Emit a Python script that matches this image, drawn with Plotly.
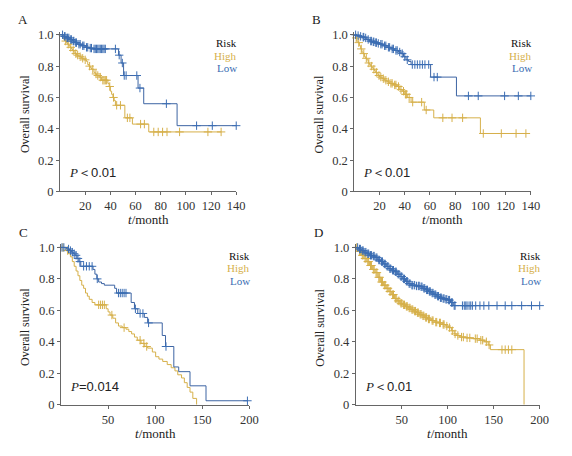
import plotly.graph_objects as go

W, H = 572, 456
BLUE = "#3b6db3"
BLUE_LINE = "#3d64a3"
GOLD = "#d6b04a"
AXC = "#666666"
FONT = "Liberation Serif, Times New Roman, serif"

# ---------------- data ----------------
# Panel A
a_low_t = [0, 3, 5, 8, 10, 12, 14, 17, 20, 23, 26, 46.5, 48.5, 50.5, 62, 66.5, 93]
a_low_s = [1.0, 0.99, 0.98, 0.97, 0.96, 0.95, 0.94, 0.93, 0.92, 0.915, 0.91, 0.87, 0.82, 0.74, 0.66, 0.56, 0.42]
a_low_c = [2, 3.5, 4, 5.5, 6, 7, 8.5, 9, 10.5, 11, 12.5, 13, 15, 16, 18, 19, 21, 22, 24, 25, 27, 28, 29, 30,
           31, 32, 33, 34, 35, 36, 44, 47, 49.5, 51, 52.5, 61, 63.5, 84.5, 108.5, 121, 140]
a_high_t = [0, 2, 3, 4, 5, 6, 7, 8, 9, 10, 11, 12, 13, 15, 17, 19, 21, 22, 23, 24, 25, 27, 28, 29, 31, 33,
            38, 39, 40, 41, 42, 43, 44, 51.5, 57.5, 70.5]
a_high_s = [1, .98, .97, .96, .95, .94, .93, .92, .91, .90, .89, .88, .87, .86, .85, .84, .83, .81, .80, .79,
            .78, .76, .75, .74, .73, .71, .69, .67, .64, .62, .60, .58, .55, .47, .43, .38]
a_high_c = [4.5, 6.5, 8.5, 10.5, 12.5, 14, 16, 18, 20, 23.5, 26, 28.5, 30, 32, 34, 35, 36, 37, 39.5, 42.5,
            45, 48, 53.5, 55.5, 64, 67, 74.5, 78, 81.5, 85, 95, 117.5, 128]

# Panel B
b_low_t = [0, 2, 4, 6, 8, 10, 12, 14, 16, 18, 20, 23, 26, 29, 32, 35, 37, 39, 41, 43, 45, 60.5, 81]
b_low_s = [1, .995, .99, .985, .98, .97, .96, .955, .95, .945, .94, .93, .92, .91, .90, .89, .88, .86, .84,
           .83, .81, .73, .61]
b_low_c = [1, 3, 5, 7, 7.5, 9, 11, 13, 13.5, 15, 15.5, 17, 17.5, 19, 21, 22, 24, 25, 27, 28, 30, 31, 33, 34,
           36, 38, 40, 42, 46, 48, 50, 52, 54, 56, 59, 63.2, 65.8, 90.5, 98.3, 119.2, 130.1, 140]
b_high_t = [0, 1, 2, 3, 4, 5, 6, 7, 8, 9, 10, 11, 12, 13, 14, 15, 16, 17, 18, 19, 20, 22, 24, 26, 28, 31,
            34, 36, 38, 40, 42, 45, 55.5, 63, 100]
b_high_s = [1, .98, .96, .95, .93, .91, .89, .88, .86, .85, .84, .82, .81, .80, .79, .78, .77, .76, .75,
            .74, .73, .72, .71, .70, .69, .68, .67, .65, .64, .62, .60, .57, .52, .47, .37]
b_high_c = [1.5, 3.5, 5.5, 7.5, 9.5, 11.5, 13.5, 15.5, 17.5, 19.5, 21, 23, 25, 27, 29, 30, 32, 33, 35, 37,
            39, 40.5, 41.5, 43.5, 46.3, 53.4, 57, 70.2, 77.5, 85.9, 102.3, 116.6, 128.3, 136.1]

# Panel C
c_low_t = [0, 6, 9, 11, 13, 15, 17, 19, 21, 34, 36, 38, 40, 43, 46, 57, 59, 74.5, 78, 81.5, 88.5, 92,
           107.5, 111, 119.8, 125, 137, 154]
c_low_s = [1, .99, .98, .97, .96, .95, .93, .91, .88, .86, .83, .80, .78, .77, .76, .74, .71, .65, .61,
           .58, .555, .52, .44, .37, .24, .21, .12, .025]
c_low_c = [1, 3, 8, 10, 12, 14, 16, 18, 20, 24, 27, 30, 33, 38.5, 61, 63, 65, 67, 69, 79, 84, 87, 93,
           111.5, 198]
c_high_t = [0, 5, 8, 10, 12, 14, 16, 18, 20, 22, 24, 26, 28, 30, 33, 36, 48, 50, 52, 55, 58, 61, 65, 69,
            72, 75, 78, 81, 85, 89, 92, 97, 100.5, 104, 108, 112.8, 117, 121, 124, 128, 131, 134, 137, 140, 144]
c_high_s = [1, .98, .96, .94, .91, .88, .85, .82, .79, .76, .74, .71, .69, .67, .65, .635, .61, .59, .57,
            .55, .52, .50, .49, .48, .465, .45, .43, .41, .39, .37, .36, .335, .305, .29, .275, .255, .235,
            .215, .19, .17, .14, .11, .08, .04, 0]
c_high_c = [2, 7, 40, 42, 44, 46, 54, 67, 84, 88, 91]

# Panel D
d_low_t = [0, 3, 6, 9, 12, 15, 18, 21, 24, 27, 30, 33, 36, 39, 42, 45, 48, 51, 54, 57, 60, 65, 70, 73, 76,
           79, 82, 85, 88, 91, 94, 97, 100, 103, 106]
d_low_s = [1, .99, .98, .97, .96, .95, .945, .935, .92, .91, .895, .88, .865, .855, .845, .83, .815, .80,
           .785, .77, .76, .755, .75, .74, .73, .72, .71, .70, .69, .68, .675, .67, .665, .65, .63]
d_low_c = [2, 4, 5, 7, 8, 10, 11, 13, 14, 16, 17, 19, 20, 22, 23, 25, 26, 28, 29, 31, 32, 34, 35, 37, 38,
           40, 41, 43, 44, 46, 47, 49, 50, 52, 53, 55, 56, 58, 59, 61, 62, 64, 66, 68, 69, 71, 72, 74, 75,
           77, 78, 80, 81, 83, 84, 86, 87, 89, 90, 92, 93, 95, 96, 98, 99, 101, 102, 104, 105, 107, 108,
           116, 118, 119.6, 121, 123.2, 125, 126.8, 130.4, 135, 139.3, 144.7, 153.6, 162.5, 169.7, 180.4,
           191.1, 200]
d_high_t = [0, 3, 6, 9, 12, 15, 18, 21, 24, 27, 30, 33, 36, 39, 42, 45, 48, 51, 54, 57, 60, 63, 66, 69,
            72, 75, 78, 82, 86, 90, 94, 98, 101, 104, 107, 110, 113, 120, 128, 135, 140, 144, 146.4, 183]
d_high_s = [1, .975, .95, .93, .91, .885, .86, .84, .81, .78, .76, .74, .72, .70, .675, .66, .645, .635,
            .625, .615, .605, .595, .585, .575, .565, .555, .545, .535, .525, .52, .51, .50, .49, .47,
            .45, .44, .43, .425, .42, .41, .40, .38, .35, 0]
d_high_c = [1, 4, 5, 7, 8, 10, 11, 13, 14, 16, 17, 19, 20, 22, 23, 25, 26, 28, 29, 31, 32, 34, 35, 37, 38,
            40, 41, 43, 44, 46, 47, 49, 50, 52, 53, 55, 56, 58, 59, 61, 62, 64, 65, 67, 68, 70, 71, 73,
            74, 76, 77, 79, 80, 83, 84, 87, 88, 91, 92, 95, 96, 99, 102, 105, 108, 111, 115, 117, 121,
            124, 130, 132, 136, 138, 142, 145, 159, 162.5, 166, 169.7]

panel_labels = ["A", "B", "C", "D"]
P_SPAN = "<span style='font-family:Liberation Sans'>%s</span>"
p_texts = ["<i>P</i>＜" + P_SPAN % "0.01",
           "<i>P</i>＜" + P_SPAN % "0.01",
           "<i>P</i>" + P_SPAN % "=0.014",
           "<i>P</i>＜" + P_SPAN % "0.01"]
y_tickvals = [0, 0.2, 0.4, 0.6, 0.8, 1.0]
y_ticktext = ["0", "0.2", "0.4", "0.6", "0.8", "1.0"]
x_ticks_ab = [20, 40, 60, 80, 100, 120, 140]
x_ticks_cd = [50, 100, 150, 200]
legend_title = "Risk"
group_names = ["High", "Low"]


def surv_at(ts, ss, c):
    v = ss[0]
    for t, s in zip(ts, ss):
        if t <= c:
            v = s
        else:
            break
    return v


def px2x(p):
    return p / W


def px2y(p):
    return 1 - p / H


panels = [
    dict(high=(a_high_t, a_high_s, a_high_c), low=(a_low_t, a_low_s, a_low_c), xr=140, xt=x_ticks_ab,
         xd=(61, 240), yd=(29.3, 192.7)),
    dict(high=(b_high_t, b_high_s, b_high_c), low=(b_low_t, b_low_s, b_low_c), xr=140, xt=x_ticks_ab,
         xd=(360, 539.3), yd=(29.3, 192.7)),
    dict(high=(c_high_t, c_high_s, c_high_c), low=(c_low_t, c_low_s, c_low_c), xr=200, xt=x_ticks_cd,
         xd=(62, 253.3), yd=(246.7, 410.7)),
    dict(high=(d_high_t, d_high_s, d_high_c), low=(d_low_t, d_low_s, d_low_c), xr=200, xt=x_ticks_cd,
         xd=(361.5, 548.3), yd=(246.7, 410.7)),
]

fig = go.Figure()
layout = {}
annotations = []
tickfont = dict(family=FONT, size=12.5, color="#333333")


def ann(x, y, text, size=13, color="#222", xanchor="center", **kw):
    annotations.append(dict(x=px2x(x), y=px2y(y), xref="paper", yref="paper", text=text,
                            showarrow=False, xanchor=xanchor, yanchor="middle", borderpad=0,
                            font=dict(family=FONT, size=size, color=color), **kw))


for i, p in enumerate(panels):
    n = "" if i == 0 else str(i + 1)
    xa, ya = "x" + n, "y" + n
    for key, lcol, mcol in (("high", GOLD, GOLD), ("low", BLUE_LINE, BLUE)):
        ts, ss, cs = p[key]
        fig.add_trace(go.Scatter(x=ts + [max(ts[-1], max(cs))], y=ss + [ss[-1]], mode="lines",
                                 line=dict(color=lcol, width=1, shape="hv"), xaxis=xa, yaxis=ya,
                                 showlegend=False, hoverinfo="skip"))
        fig.add_trace(go.Scatter(x=cs, y=[surv_at(ts, ss, c) for c in cs], mode="markers",
                                 marker=dict(symbol="cross-thin-open", size=6, color=mcol,
                                             line=dict(color=mcol, width=1)),
                                 xaxis=xa, yaxis=ya, showlegend=False, cliponaxis=False, hoverinfo="skip"))
    x0, x1 = p["xd"]
    y0, y1 = p["yd"]
    layout["xaxis" + n] = dict(domain=[px2x(x0), px2x(x1)], range=[0, p["xr"]], anchor=ya,
                               showline=True, linecolor=AXC, linewidth=1, ticks="outside", ticklen=3,
                               tickcolor=AXC, tickvals=p["xt"], showgrid=False, zeroline=False,
                               tickfont=tickfont)
    layout["yaxis" + n] = dict(domain=[px2y(y1), px2y(y0)], range=[0, 1.02], anchor=xa,
                               showline=True, linecolor=AXC, linewidth=1, ticks="outside", ticklen=3,
                               tickcolor=AXC, tickvals=y_tickvals, ticktext=y_ticktext, showgrid=False,
                               zeroline=False, tickfont=tickfont)
    xc = (x0 + x1) / 2
    ymid = (y0 + y1) / 2
    ann(xc, y1 + 29, "<i>t</i>/month")
    ann(x0 - 36, ymid + 3, "Overall survival", size=12, textangle=-90)
    ann(x0 - 38, y0 - 12, panel_labels[i])
    for j, (txt, col) in enumerate(((legend_title, "#111111"), (group_names[0], GOLD),
                                    (group_names[1], BLUE))):
        ann(x1 + 2, y0 + 11.5 + 13 * j, txt, size=11, color=col, xanchor="right")
    ann(x0 + 8, y1 - 19, p_texts[i], size=13, xanchor="left")

fig.update_layout(width=W, height=H, margin=dict(l=0, r=0, t=0, b=0), plot_bgcolor="white",
                  paper_bgcolor="white", annotations=annotations, **layout)
fig.write_html("out.html", config={"displayModeBar": False, "staticPlot": True},
               post_script="document.body.style.margin='0';document.body.style.padding='0';")
